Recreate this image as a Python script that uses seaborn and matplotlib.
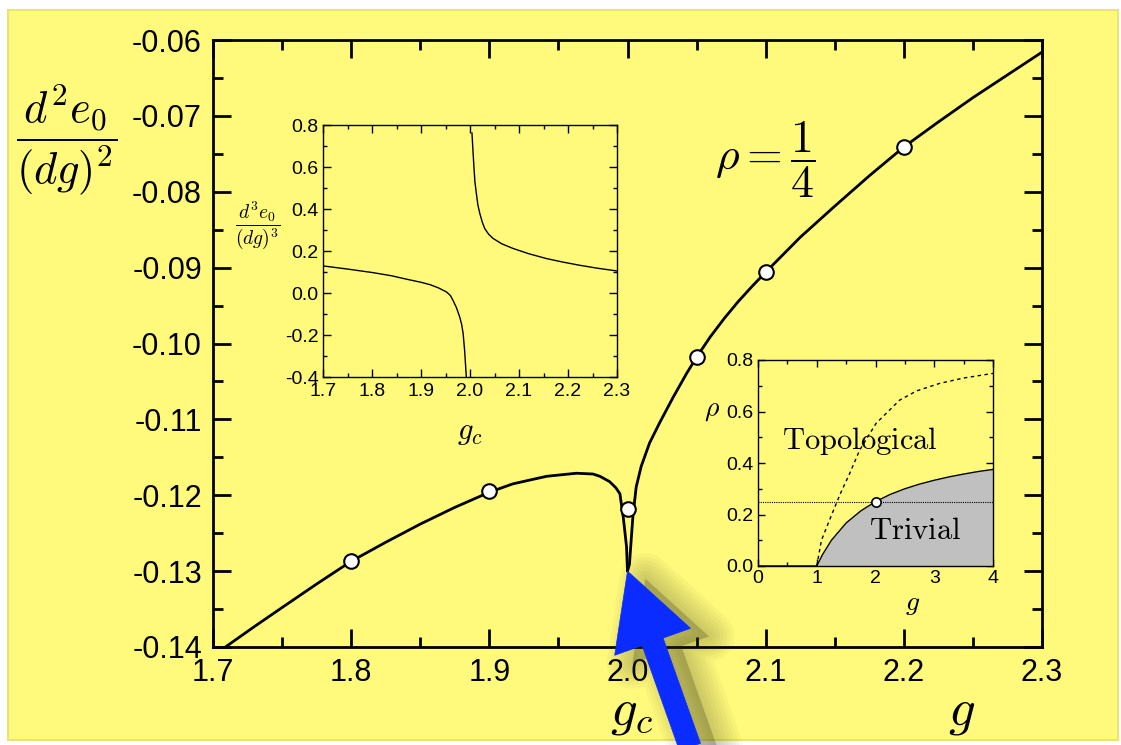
import numpy as np
import pandas as pd
import matplotlib
matplotlib.use("Agg")
import matplotlib.pyplot as plt
import seaborn as sns
from matplotlib.patches import Rectangle
from matplotlib.ticker import MultipleLocator, FormatStrFormatter
from matplotlib.transforms import offset_copy

# ---------------- data ----------------
# main curve: d2e0/dg2 vs g (rho = 1/4)
g_left = [1.709, 1.73, 1.75, 1.775, 1.80, 1.825, 1.85, 1.875, 1.90, 1.917, 1.9415,
          1.963, 1.975, 1.980, 1.987, 1.9915, 1.9945, 1.997, 1.9993, 2.000]
e2_left = [-0.1400, -0.1373, -0.1348, -0.1317, -0.1287, -0.1262, -0.1238, -0.1216,
           -0.1196, -0.1185, -0.1175, -0.1171, -0.1172, -0.1175, -0.1182, -0.1190,
           -0.1198, -0.1230, -0.1268, -0.1300]
g_right = [2.000, 2.0014, 2.0039, 2.0063, 2.0099, 2.016, 2.0234, 2.033, 2.0426, 2.05,
           2.06, 2.07, 2.08, 2.09, 2.10, 2.125, 2.15, 2.175, 2.20, 2.225, 2.25,
           2.275, 2.30]
e2_right = [-0.1300, -0.1291, -0.1228, -0.1189, -0.1162, -0.1131, -0.1104, -0.1071,
            -0.1040, -0.1018, -0.0991, -0.0967, -0.0945, -0.0925, -0.0906, -0.0860,
            -0.0819, -0.0779, -0.0741, -0.0708, -0.0676, -0.0646, -0.0616]
g_pts = [1.8, 1.9, 2.0, 2.05, 2.1, 2.2]
e2_pts = [-0.1287, -0.1195, -0.1218, -0.1018, -0.0906, -0.0741]

# inset 1: d3e0/dg3 vs g_c
g3_left = [1.70, 1.75, 1.802, 1.84, 1.870, 1.90, 1.918, 1.935, 1.952, 1.960,
           1.965, 1.972, 1.979, 1.983, 1.986, 1.989, 1.9925]
e3_left = [0.129, 0.114, 0.097, 0.082, 0.066, 0.051, 0.040, 0.025, 0.005, -0.012,
           -0.034, -0.068, -0.114, -0.150, -0.193, -0.273, -0.400]
g3_right = [2.004, 2.006, 2.008, 2.010, 2.013, 2.016, 2.020, 2.025, 2.030, 2.038,
            2.047, 2.065, 2.088, 2.12, 2.156, 2.19, 2.224, 2.26, 2.30]
e3_right = [0.763, 0.680, 0.601, 0.530, 0.474, 0.420, 0.379, 0.338, 0.307, 0.280,
            0.260, 0.234, 0.212, 0.187, 0.164, 0.147, 0.132, 0.118, 0.105]

# inset 2: phase diagram rho vs g
g_phase = [0.0, 1.0, 1.1, 1.25, 1.5, 1.75, 2.0, 2.25, 2.5, 2.75, 3.0, 3.25, 3.5, 3.75, 4.0]
rho_phase = [0.0, 0.0, 0.045, 0.100, 0.167, 0.214, 0.250, 0.278, 0.300, 0.318,
             0.333, 0.346, 0.357, 0.367, 0.375]
g_dash = [1.0, 1.08, 1.25, 1.40, 1.56, 1.73, 2.01, 2.41, 2.70, 3.09, 3.5, 4.0]
rho_dash = [0.0, 0.10, 0.197, 0.28, 0.359, 0.45, 0.554, 0.644, 0.68, 0.709, 0.73, 0.748]
rho_line = 0.25
g_mark, rho_mark = [2.0], [0.25]

# ---------------- style ----------------
sns.set_theme(style="ticks")
plt.rcParams["font.family"] = ["Liberation Sans", "DejaVu Sans"]
plt.rcParams["mathtext.fontset"] = "cm"
plt.rcParams["axes.unicode_minus"] = False
plt.rcParams["text.color"] = "black"
plt.rcParams["axes.labelcolor"] = "black"

YELLOW = "#fffa7c"
BLUE = "#0a2cff"

fig = plt.figure(figsize=(11.21, 7.45), dpi=100)
fig.patch.set_facecolor("white")
W, H = 1121, 745
fig.patches.append(Rectangle((8 / W, 5 / H), 1110 / W, 730 / H, transform=fig.transFigure,
                             facecolor=YELLOW, edgecolor="#e9e37a", linewidth=1.5, zorder=-10))


def px_axes(l, t, r, b):
    return fig.add_axes([l / W, 1 - b / H, (r - l) / W, (b - t) / H])


def style_ticks(ax, size, lw, major, minor, pad):
    ax.tick_params(which="both", direction="in", top=True, right=True, width=lw,
                   labelsize=size, pad=pad, colors="black")
    ax.tick_params(which="major", length=major)
    ax.tick_params(which="minor", length=minor)
    for s in ax.spines.values():
        s.set_linewidth(lw)
        s.set_color("black")
        s.set_visible(True)
    ax.set_facecolor("none")


# ---------------- main axes ----------------
ax = px_axes(213, 40, 1042, 647)
df_l = pd.DataFrame({"g": g_left, "v": e2_left})
df_r = pd.DataFrame({"g": g_right, "v": e2_right})
sns.lineplot(data=df_l, x="g", y="v", ax=ax, color="black", lw=2.0, sort=False, estimator=None)
sns.lineplot(data=df_r, x="g", y="v", ax=ax, color="black", lw=2.0, sort=False, estimator=None)
sns.scatterplot(x=g_pts, y=e2_pts, ax=ax, s=110, color="white", edgecolor="black",
                linewidth=1.5, zorder=5)
ax.set_xlim(1.7, 2.3)
ax.set_ylim(-0.14, -0.06)
ax.xaxis.set_major_locator(MultipleLocator(0.1))
ax.xaxis.set_minor_locator(MultipleLocator(0.05))
ax.yaxis.set_major_locator(MultipleLocator(0.01))
ax.yaxis.set_minor_locator(MultipleLocator(0.005))
ax.xaxis.set_major_formatter(FormatStrFormatter("%.1f"))
ax.yaxis.set_major_formatter(FormatStrFormatter("%.2f"))
style_ticks(ax, 22, 2.0, 13, 7, 8)
ax.set_xlabel("")
ax.set_ylabel("")

fig.text(67 / W, 1 - 140 / H, r"$\dfrac{d^2e_0}{(dg)^2}$", fontsize=32, ha="center", va="center")
fig.text(632 / W, 1 - 712 / H, r"$g_c$", fontsize=38, ha="center", va="center")
fig.text(962 / W, 1 - 712 / H, r"$g$", fontsize=38, ha="center", va="center")
fig.text(765 / W, 1 - 160 / H, r"$\rho = \dfrac{1}{4}$", fontsize=33, ha="center", va="center")

# ---------------- inset 1 ----------------
ax1 = px_axes(323, 125, 617, 377)
sns.lineplot(x=g3_left, y=e3_left, ax=ax1, color="black", lw=1.0, sort=False, estimator=None)
sns.lineplot(x=g3_right, y=e3_right, ax=ax1, color="black", lw=1.0, sort=False, estimator=None)
ax1.set_xlim(1.7, 2.3)
ax1.set_ylim(-0.4, 0.8)
ax1.xaxis.set_major_locator(MultipleLocator(0.1))
ax1.xaxis.set_minor_locator(MultipleLocator(0.05))
ax1.yaxis.set_major_locator(MultipleLocator(0.2))
ax1.yaxis.set_minor_locator(MultipleLocator(0.1))
ax1.xaxis.set_major_formatter(FormatStrFormatter("%.1f"))
ax1.yaxis.set_major_formatter(FormatStrFormatter("%.1f"))
style_ticks(ax1, 14, 1.0, 6, 3, 3)
ax1.tick_params(axis="x", pad=4)
fig.text(258 / W, 1 - 225 / H, r"$\dfrac{d^3e_0}{(dg)^3}$", fontsize=14, ha="center", va="center")
fig.text(470 / W, 1 - 432 / H, r"$g_c$", fontsize=22, ha="center", va="center")

# ---------------- inset 2 ----------------
ax2 = px_axes(758, 360, 993, 566)
ax2.fill_between(g_phase, 0, rho_phase, color="#c0c0c0", lw=0)
sns.lineplot(x=g_phase, y=rho_phase, ax=ax2, color="black", lw=1.0, sort=False, estimator=None)
sns.lineplot(x=g_dash, y=rho_dash, ax=ax2, color="black", lw=1.0, sort=False, estimator=None,
             linestyle=(0, (2.5, 2.5)))
ax2.axhline(rho_line, color="black", lw=0.8, linestyle=(0, (1, 1)))
sns.scatterplot(x=g_mark, y=rho_mark, ax=ax2, s=45, color="white", edgecolor="black",
                linewidth=1.2, zorder=5)
ax2.set_xlim(0, 4)
ax2.set_ylim(0, 0.8)
ax2.xaxis.set_major_locator(MultipleLocator(1))
ax2.xaxis.set_minor_locator(MultipleLocator(0.5))
ax2.yaxis.set_major_locator(MultipleLocator(0.2))
ax2.yaxis.set_minor_locator(MultipleLocator(0.1))
ax2.xaxis.set_major_formatter(FormatStrFormatter("%d"))
ax2.yaxis.set_major_formatter(FormatStrFormatter("%.1f"))
style_ticks(ax2, 14, 1.0, 5, 3, 3)
ax2.text(1.73, 0.485, r"$\mathrm{Topological}$", fontsize=22, ha="center", va="center")
ax2.text(2.67, 0.135, r"$\mathrm{Trivial}$", fontsize=22, ha="center", va="center")
fig.text(712 / W, 1 - 410 / H, r"$\rho$", fontsize=20, ha="center", va="center")
fig.text(913 / W, 1 - 604 / H, r"$g$", fontsize=20, ha="center", va="center")

# ---------------- arrow ----------------
tip = (g_left[-1], e2_left[-1])
tail_fig = (690 / W, -2 / H)
style = "simple,head_length=54,head_width=58,tail_width=16"
for k in range(8):
    ax.annotate("", xy=tip,
                xycoords=offset_copy(ax.transData, fig=fig, x=18, y=-8, units="dots"),
                xytext=tail_fig,
                textcoords=offset_copy(fig.transFigure, fig=fig, x=18, y=-8, units="dots"),
                arrowprops=dict(arrowstyle=style, mutation_scale=1, fc="#3a3a20", ec="#3a3a20",
                                alpha=0.035, lw=2 + 5 * k, shrinkA=0, shrinkB=0,
                                joinstyle="round"),
                annotation_clip=False, zorder=19)
ax.annotate("", xy=tip, xycoords="data",
            xytext=tail_fig, textcoords="figure fraction",
            arrowprops=dict(arrowstyle=style, mutation_scale=1, fc=BLUE, ec=BLUE, lw=0.5,
                            shrinkA=0, shrinkB=0),
            annotation_clip=False, zorder=20)

fig.savefig("out.png", dpi=100, facecolor=fig.get_facecolor())
